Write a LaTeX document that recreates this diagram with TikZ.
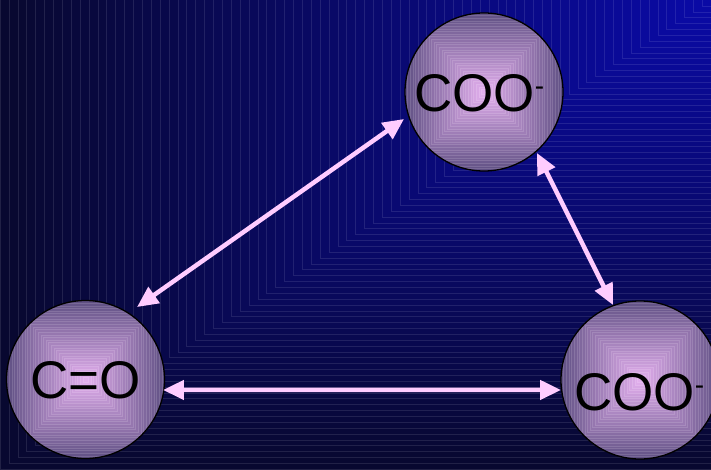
\documentclass[tikz,border=0pt]{standalone}
\usepackage{fontspec}
\setmainfont{Liberation Sans}
\usetikzlibrary{calc,arrows.meta}
\definecolor{bgB}{RGB}{10,10,168}
\definecolor{bgD}{RGB}{8,8,48}
\definecolor{ballC}{RGB}{230,178,240}
\definecolor{ballE}{RGB}{96,80,132}
\definecolor{arrowpink}{RGB}{255,204,255}
\begin{document}
\begin{tikzpicture}[x=1pt,y=1pt,
  ball/.style={circle,minimum size=158pt,inner sep=0pt,outer sep=0pt},
  conn/.style={draw=arrowpink,line width=4.5pt,
    {Triangle[length=21pt,width=19pt]}-{Triangle[length=21pt,width=19pt]}},
  chem/.style={font=\fontsize{53}{60}\selectfont,inner sep=0pt,anchor=base west}]
\useasboundingbox (0,0) rectangle (711,469);
% background: rectangular gradient from the top-right corner
\foreach \i in {80,...,1}{
  \pgfmathsetmacro\t{\i/80}
  \pgfmathtruncatemacro\p{100*(1-\t)}
  \fill[bgB!\p!bgD, draw=bgB!\p!bgD!90!white, line width=0.35pt]
    ({711*(1-\t)},{469*(1-\t)}) rectangle (711,470);
}
% balls
\foreach \cx/\cy in {484/377, 85.5/89.5, 640/89}{
  \begin{scope}
    \clip (\cx,\cy) circle (79);
    \foreach \j in {30,...,1}{
      \pgfmathtruncatemacro\q{100*\j/30}
      \fill[ballE!\q!ballC, draw=ballE!\q!ballC!88!white, line width=0.4pt]
        ({\cx-79*\j/30},{\cy-79*\j/30}) rectangle ({\cx+79*\j/30},{\cy+79*\j/30});
    }
  \end{scope}
}
\node[ball,draw=black,line width=1.3pt] (top) at (484,377) {};
\node[ball,draw=black,line width=1.3pt] (bl) at (85.5,89.5) {};
\node[ball,draw=black,line width=1.3pt] (br) at (640,89) {};
% labels
\node[chem] (ttop) at (414,357) {COO\raisebox{16pt}{\fontsize{28}{28}\selectfont -}};
\node[chem] (tbl) at (30,71) {C=O};
\node[chem] (tbr) at (574,59) {COO\raisebox{16pt}{\fontsize{28}{28}\selectfont -}};
% connectors
\draw[conn] ($(bl.center)+(54.6:88.9)$) -- ($(top.center)+(198.65:84.4)$);
\draw[conn] ($(top.center)+(-49:80.8)$) -- ($(br.center)+(109.8:79.7)$);
\draw[conn] ($(bl.center)+(-7.7:78.2)$) -- ($(br.center)+(187.2:79.6)$);
\end{tikzpicture}
\end{document}
